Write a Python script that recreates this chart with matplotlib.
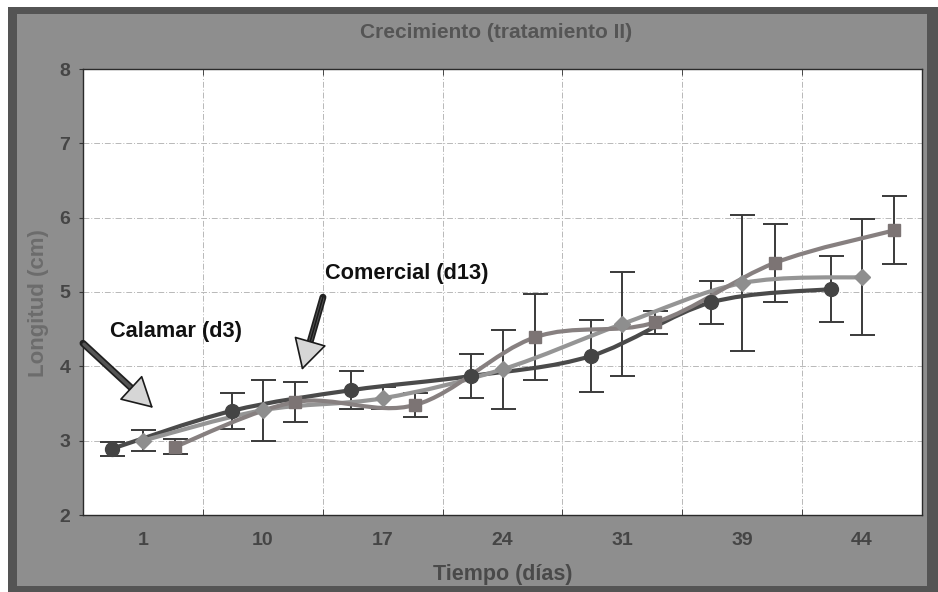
import matplotlib.pyplot as plt
import numpy as np
from matplotlib.path import Path
from matplotlib.patches import PathPatch, Rectangle

plt.rcParams['font.family'] = ['Liberation Sans', 'DejaVu Sans']

# Sampling days (categorical x axis)
dias = ['1', '10', '17', '24', '31', '39', '44']

# Series drawn with circles
serie_a = [2.89, 3.40, 3.68, 3.87, 4.14, 4.86, 5.04]
serie_a_err = [0.09, 0.24, 0.26, 0.29, 0.48, 0.29, 0.44]

# Calamar (d3), diamonds
calamar = [3.00, 3.41, 3.57, 3.96, 4.57, 5.12, 5.20]
calamar_err = [0.14, 0.41, 0.15, 0.53, 0.70, 0.92, 0.78]

# Comercial (d13), squares
comercial = [2.92, 3.52, 3.48, 4.39, 4.59, 5.39, 5.83]
comercial_err = [0.10, 0.27, 0.16, 0.58, 0.16, 0.52, 0.46]


def smooth_path(xs, ys):
    # Catmull-Rom style cubic Bezier through every point
    pts = np.column_stack([xs, ys])
    n = len(pts)
    verts = [pts[0]]
    codes = [Path.MOVETO]
    for i in range(n - 1):
        p0 = pts[max(i - 1, 0)]
        p1 = pts[i]
        p2 = pts[i + 1]
        p3 = pts[min(i + 2, n - 1)]
        c1 = p1 + (p2 - p0) / 6.0
        c2 = p2 - (p3 - p1) / 6.0
        verts += [c1, c2, p2]
        codes += [Path.CURVE4] * 3
    return Path(verts, codes)


fig = plt.figure(figsize=(9.38, 5.92), dpi=100)
fig.patch.set_facecolor('white')

# grey frame with a darker border
W, H = 938, 592
fig.patches.append(Rectangle((8 / W, 0), 1 - 8 / W, 1 - 7 / H, transform=fig.transFigure,
                             facecolor='#545454', edgecolor='none', zorder=-2))
fig.patches.append(Rectangle((17 / W, 6 / H), (927 - 17) / W, (578 - 6) / H,
                             transform=fig.transFigure, facecolor='#8e8e8e',
                             edgecolor='none', zorder=-1))

ax = fig.add_axes([83 / W, 77 / H, (922 - 83) / W, (515 - 69) / H])
ax.set_zorder(2)
ax.set_facecolor('white')

x = np.arange(len(dias))
series = [
    (serie_a, serie_a_err, -0.26, 'o', 10, '#444444', '#4a4a4a'),
    (calamar, calamar_err, 0.0, 'D', 8, '#8e8e8e', '#959595'),
    (comercial, comercial_err, 0.27, 's', 9, '#7c7474', '#878080'),
]

for vals, errs, off, mk, ms, mcol, lcol in series:
    xs = x + off
    ax.errorbar(xs, vals, yerr=errs, fmt='none', ecolor='#3a3a3a',
                elinewidth=1.4, capsize=9, capthick=1.4, zorder=3)
    ax.add_patch(PathPatch(smooth_path(xs, vals), fill=False, edgecolor=lcol,
                           linewidth=3, zorder=4, capstyle='round'))
    ax.plot(xs, vals, linestyle='none', marker=mk, markersize=ms,
            markerfacecolor=mcol, markeredgecolor=mcol, zorder=5)

ax.set_xlim(-0.5, len(dias) - 0.5)
ax.set_ylim(2, 8)
ax.set_xticks(x)
ax.set_xticklabels(dias)
ax.set_xticks(x[:-1] + 0.5, minor=True)
ax.set_yticks(range(2, 9))

ax.grid(True, which='minor', axis='x', color='#b8b8b8', linestyle=(0, (6, 2, 1, 2)),
        linewidth=0.7)
ax.grid(True, which='major', axis='y', color='#b8b8b8', linestyle=(0, (6, 2, 1, 2)),
        linewidth=0.7)
ax.set_axisbelow(True)

ax.tick_params(axis='x', which='major', length=0, pad=12, labelsize=14,
               labelcolor='#454545')
ax.tick_params(axis='x', which='minor', length=4, direction='in', top=True,
               bottom=True, color='#333333')
ax.tick_params(axis='y', which='major', length=3, direction='out', pad=6,
               labelsize=14, labelcolor='#454545', color='#333333')
for lab in ax.get_xticklabels() + ax.get_yticklabels():
    lab.set_fontweight('bold')

for sp in ax.spines.values():
    sp.set_color('#2a2a2a')
    sp.set_linewidth(1.0)

ax.set_xlabel('Tiempo (días)', fontsize=15.5, fontweight='bold', color='#4a4a4a',
              labelpad=11)
ax.set_ylabel('Longitud (cm)', fontsize=16, fontweight='bold', color='#6c6c6c')
ax.yaxis.set_label_coords(-0.041, 0.475)
fig.text(496 / W, 1 - 32 / H, 'Crecimiento (tratamiento II)', ha='center',
         va='center', fontsize=15, fontweight='bold', color='#555555')

# annotations with arrows
ax.text(-0.275, 4.47, 'Calamar (d3)', fontsize=15.7, fontweight='bold',
        color='#111111', va='center', ha='left')
ax.text(1.52, 5.25, 'Comercial (d13)', fontsize=15.7, fontweight='bold',
        color='#111111', va='center', ha='left')

arrows = [((-0.5, 4.31), (0.084, 3.44)), ((1.502, 4.93), (1.327, 3.95))]
for tail, tip in arrows:
    ax.annotate('', xy=tip, xytext=tail,
                arrowprops=dict(arrowstyle='-', color='#202020', lw=5,
                                shrinkA=0, shrinkB=18), zorder=6,
                annotation_clip=False)
    ax.annotate('', xy=tip, xytext=tail,
                arrowprops=dict(arrowstyle='-', color='#555555', lw=2.5,
                                shrinkA=1, shrinkB=18), zorder=6,
                annotation_clip=False)
    ax.annotate('', xy=tip, xytext=tail,
                arrowprops=dict(arrowstyle='-|>,head_length=1.0,head_width=0.55',
                                mutation_scale=20, facecolor='#d6d6d6',
                                edgecolor='#1a1a1a', lw=1.2, shrinkA=60, shrinkB=0),
                zorder=7, annotation_clip=False)

fig.savefig('out.png', dpi=100, facecolor=fig.get_facecolor())
